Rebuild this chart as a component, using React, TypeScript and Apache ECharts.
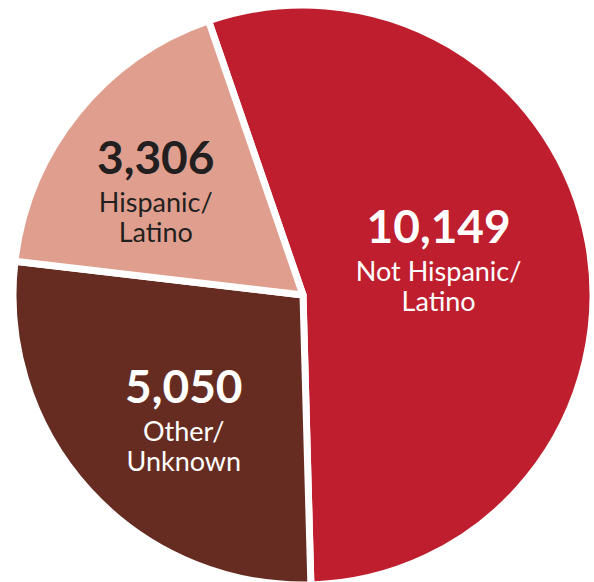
import React, { useEffect, useRef } from "react";
import * as echarts from "echarts";

const categories = ["Not Hispanic/\nLatino", "Other/\nUnknown", "Hispanic/\nLatino"];
const values = [10149, 5050, 3306];
const sliceColors = ["#BE1E2D", "#672C21", "#E09F8E"];
const labelColors = ["#FFFFFF", "#FFFFFF", "#231F20"];
// label nudges (px) from the default inside position
const labelShift = [
  [-10, -13],
  [-10, 21],
  [-32, -16],
];

export default function App() {
  const ref = useRef<HTMLDivElement>(null);
  useEffect(() => {
    if (!ref.current) return;
    const chart = echarts.init(ref.current, null, { renderer: "svg" });
    const data = categories.map((name, i) => ({
      name,
      value: values[i],
      itemStyle: { color: sliceColors[i] },
      label: { color: labelColors[i] },
    }));
    chart.setOption({
      animation: false,
      series: [
        {
          type: "pie",
          silent: true,
          center: [303, 295],
          radius: 290,
          startAngle: 109,
          clockwise: true,
          itemStyle: { borderColor: "#FFFFFF", borderWidth: 7 },
          label: {
            show: true,
            position: "inside",
            fontFamily: "Lato",
            align: "center",
            formatter: (p: any) =>
              `{num|${Number(p.value).toLocaleString("en-US")}}\n{lbl|${p.name.split("\n").join("}\n{lbl|")}}`,
            rich: {
              num: { fontFamily: "Lato", fontWeight: "bold", fontSize: 46, lineHeight: 60, align: "center" },
              lbl: { fontFamily: "Lato", fontSize: 27, lineHeight: 30, align: "center" },
            },
          },
          labelLine: { show: false },
          labelLayout: (params: any) => ({
            dx: labelShift[params.dataIndex][0],
            dy: labelShift[params.dataIndex][1],
          }),
          data,
        },
      ],
    });
    return () => chart.dispose();
  }, []);
  return (
    <div
      ref={ref}
      style={{ position: "absolute", left: 0, top: 0, width: 594, height: 582 }}
    />
  );
}
